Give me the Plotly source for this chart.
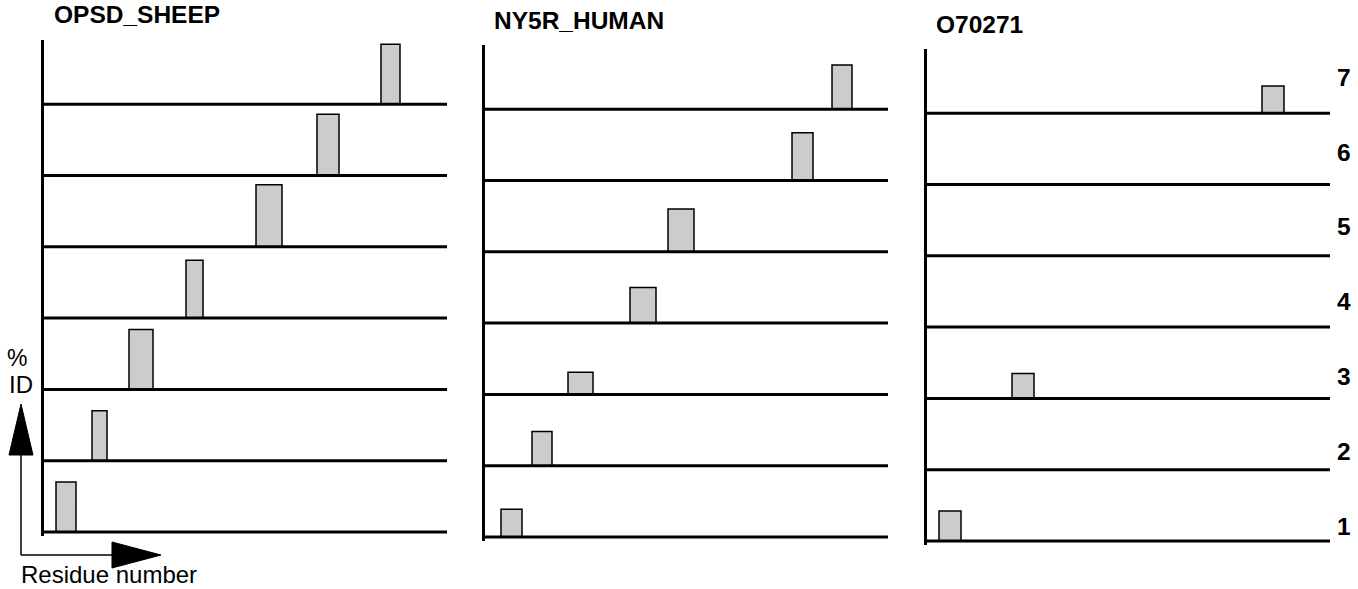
import plotly.graph_objects as go

# Row labels (stacked tracks, bottom to top)
rows = [1, 2, 3, 4, 5, 6, 7]

# OPSD_SHEEP: block centre (residue), block width (residues), % ID per row
opsd_rows = [1, 2, 3, 4, 5, 6, 7]
opsd_pos = [22, 55.5, 97, 150.5, 225, 284, 346.5]
opsd_width = [20, 15, 24, 17, 26, 22, 19]
opsd_id = [70, 70, 84, 81, 87, 86, 84]

# NY5R_HUMAN
ny5r_rows = [1, 2, 3, 4, 5, 6, 7]
ny5r_pos = [26.5, 57, 95.5, 158, 196, 317.5, 357]
ny5r_width = [21, 20, 25, 26, 26, 21, 20]
ny5r_id = [39, 48, 31, 50, 60, 67, 62]

# O70271
o70_rows = [1, 3, 7]
o70_pos = [23, 96, 346]
o70_width = [22, 22, 22]
o70_id = [42, 35, 38]

panel_names = ["OPSD_SHEEP", "NY5R_HUMAN", "O70271"]

W, H = 1358, 589
FONT = "Liberation Sans, Arial, Helvetica, sans-serif"
ROW_SPAN = 100       # % ID units per track
X_MAX = 403          # residue extent of each panel
Y_MIN, Y_MAX = -5, 690


def px(x):
    return x / W


def py(y):
    return 1 - y / H


# pixel geometry of each panel: left edge, bottom baseline, axis top
panel_box = [(44, 532, 40), (485, 537, 45), (927, 541, 49)]
title_pos = [(52, 30), (492, 36), (934, 40)]

series = [
    (opsd_rows, opsd_pos, opsd_width, opsd_id),
    (ny5r_rows, ny5r_pos, ny5r_width, ny5r_id),
    (o70_rows, o70_pos, o70_width, o70_id),
]

fig = go.Figure()
scale = 71.3 / ROW_SPAN  # px per % unit

for i, ((r_list, pos, wid, pid), (x0, b, top)) in enumerate(zip(series, panel_box)):
    ax = "" if i == 0 else str(i + 1)
    xa, ya = "x" + ax, "y" + ax

    # track baselines
    for r in rows:
        yb = (r - 1) * ROW_SPAN
        fig.add_trace(go.Scatter(
            x=[0, X_MAX], y=[yb, yb], mode="lines",
            line=dict(color="black", width=3),
            xaxis=xa, yaxis=ya, showlegend=False, hoverinfo="skip"))

    # identity blocks
    fig.add_trace(go.Bar(
        x=pos, y=pid, width=wid,
        base=[(r - 1) * ROW_SPAN for r in r_list],
        marker=dict(
            color="#c8c8c8",
            line=dict(color="black", width=1.5),
            pattern=dict(shape=".", fgcolor="#707070", bgcolor="#e6e6e6",
                         size=2, solidity=0.5),
        ),
        xaxis=xa, yaxis=ya, showlegend=False))

    bottom_px = b + (-Y_MIN) * scale
    top_px = b - Y_MAX * scale
    layout_x = dict(domain=[px(x0), px(x0 + X_MAX)], range=[0, X_MAX],
                    visible=False, fixedrange=True)
    layout_y = dict(domain=[py(bottom_px), py(top_px)], range=[Y_MIN, Y_MAX],
                    showline=True, linecolor="black", linewidth=2.5,
                    showgrid=False, zeroline=False, showticklabels=False,
                    ticks="", fixedrange=True)
    if i > 0:
        layout_x["anchor"] = ya
        layout_y["anchor"] = xa
    fig.update_layout(**{"xaxis" + ax: layout_x, "yaxis" + ax: layout_y})

annotations = []
for name, (tx, ty) in zip(panel_names, title_pos):
    annotations.append(dict(
        text="<b>%s</b>" % name, x=px(tx), y=py(ty), xref="paper", yref="paper",
        xanchor="left", yanchor="bottom", showarrow=False,
        font=dict(family=FONT, size=24.5, color="black")))

# track numbers down the right side
for r in rows:
    annotations.append(dict(
        text="<b>%d</b>" % r, x=px(1344), y=py(526 - (r - 1) * 74.8),
        xref="paper", yref="paper", xanchor="center", yanchor="middle",
        showarrow=False, font=dict(family=FONT, size=24.5, color="black")))

# axis key in the lower-left corner
annotations += [
    dict(text="%", x=px(17), y=py(358), xref="paper", yref="paper",
         xanchor="center", yanchor="middle", showarrow=False,
         font=dict(family=FONT, size=23, color="black")),
    dict(text="ID", x=px(21), y=py(384), xref="paper", yref="paper",
         xanchor="center", yanchor="middle", showarrow=False,
         font=dict(family=FONT, size=24, color="black")),
    dict(text="Residue number", x=px(19), y=py(574), xref="paper", yref="paper",
         xanchor="left", yanchor="middle", showarrow=False,
         font=dict(family=FONT, size=24, color="black")),
]


def path(points, close=False):
    s = "M " + " L ".join("%f,%f" % (px(x), py(y)) for x, y in points)
    return s + (" Z" if close else "")


shapes = [
    dict(type="path", path=path([(21, 555), (21, 454)]), xref="paper", yref="paper",
         line=dict(color="black", width=1.5)),
    dict(type="path", path=path([(9, 455), (33, 455), (21, 404)], True),
         xref="paper", yref="paper", fillcolor="black", line=dict(color="black", width=1)),
    dict(type="path", path=path([(21, 555), (113, 555)]), xref="paper", yref="paper",
         line=dict(color="black", width=1.5)),
    dict(type="path", path=path([(112, 542), (112, 568), (161, 555)], True),
         xref="paper", yref="paper", fillcolor="black", line=dict(color="black", width=1)),
]

fig.update_layout(
    width=W, height=H, margin=dict(l=0, r=0, t=0, b=0),
    paper_bgcolor="white", plot_bgcolor="rgba(0,0,0,0)",
    barmode="overlay", showlegend=False,
    annotations=annotations, shapes=shapes,
)

fig.write_html("out.html")
